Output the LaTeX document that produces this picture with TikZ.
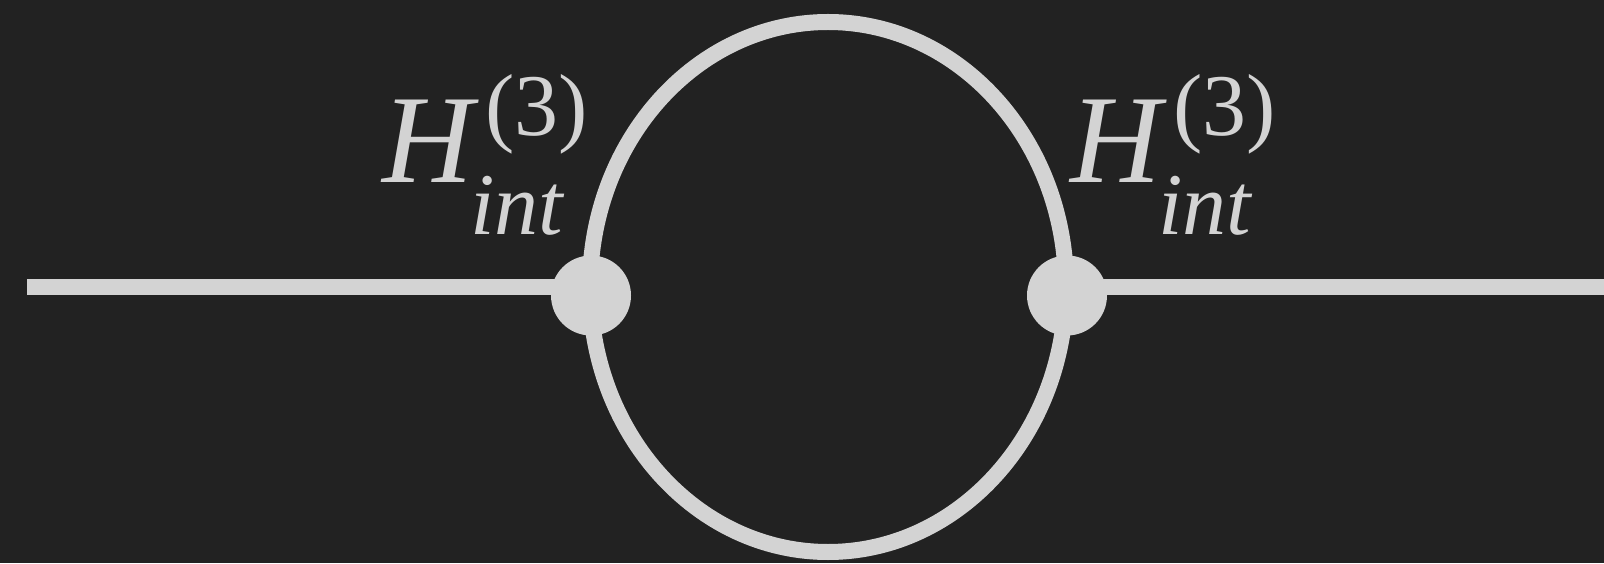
\documentclass[tikz,border=0pt]{standalone}
\usepackage{fontspec}
\setmainfont{Liberation Serif}
\definecolor{bg}{HTML}{222222}
\definecolor{fg}{HTML}{D3D3D3}
\begin{document}
\begin{tikzpicture}[x=1pt,y=1pt,
  wire/.style={draw=fg,line width=16pt},
  vertex/.style={circle,fill=fg,minimum size=80pt,inner sep=0pt},
  bigH/.style={text=fg,anchor=base west,inner sep=0pt,font=\fontsize{126}{126}\selectfont\itshape},
  suplab/.style={text=fg,anchor=base west,inner sep=0pt,font=\fontsize{88}{88}\selectfont},
  sublab/.style={text=fg,anchor=base west,inner sep=0pt,font=\fontsize{88}{88}\selectfont\itshape}]
\fill[bg] (0,0) rectangle (1604,563);
\useasboundingbox (0,0) rectangle (1604,563);
\coordinate (c) at (828,276);
\draw[wire] (c) ellipse [x radius=238, y radius=265];
\coordinate (L) at (27,276);
\coordinate (R) at (1620,276);
\coordinate (p1) at (591,267.5);
\coordinate (p2) at (1067,267.5);
\draw[wire] (L) -- (L -| p1);
\draw[wire] (R -| p2) -- (R);
\node[vertex] (v1) at (p1) {};
\node[vertex] (v2) at (p2) {};
\node[bigH] (h1) at (382,380) {H};
\node[suplab] (s1) at (485,427) {(3)};
\node[sublab] (i1) at (470,328) {int};
\node[bigH] (h2) at (1070,380) {H};
\node[suplab] (s2) at (1173,427) {(3)};
\node[sublab] (i2) at (1158,328) {int};
\end{tikzpicture}
\end{document}
